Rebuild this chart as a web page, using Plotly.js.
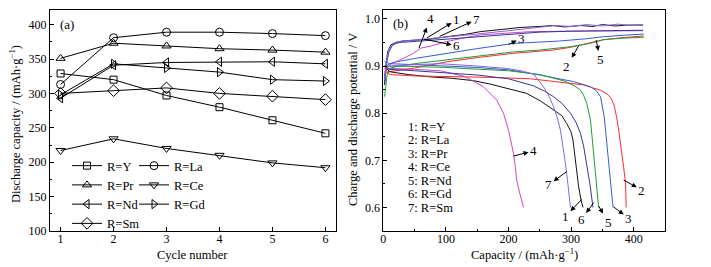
<!DOCTYPE html>
<html><head><meta charset="utf-8">
<script src="https://cdn.plot.ly/plotly-3.0.1.min.js"></script>
<style>html,body{margin:0;padding:0;background:#fff}#chart{width:711px;height:267px}</style>
</head><body><div id="chart"></div>
<script>
// ---------- Panel (a) data ----------
const cycles = [1, 2, 3, 4, 5, 6];
const capY  = [329, 320, 297, 280, 261, 242];
const capLa = [313, 381, 389, 389, 387, 384];
const capPr = [351, 373, 369, 365, 363, 360];
const capCe = [217, 234, 220, 210, 199, 192];
const capNd = [293, 341, 345, 346, 346, 343];
const capGd = [298, 343, 337, 331, 320, 318];
const capSm = [300, 304, 308, 300, 296, 291];
const namesA = ['R=Y', 'R=La', 'R=Pr', 'R=Ce', 'R=Nd', 'R=Gd', 'R=Sm'];

// ---------- Panel (b) data: charge curves ----------
const chgX1 = [2, 4, 7, 12, 20, 30, 50, 75, 100, 130, 155, 190, 220, 250, 270, 290, 315, 335, 350, 370, 390, 415];
const chgV1 = [0.86, 0.90, 0.93, 0.945, 0.95, 0.953, 0.955, 0.957, 0.962, 0.967, 0.973, 0.978, 0.982, 0.984, 0.986, 0.983, 0.986, 0.984, 0.988, 0.985, 0.987, 0.987];
const chgX2 = [2, 5, 10, 20, 50, 101, 150, 208, 250, 272, 300, 325, 352, 380, 416];
const chgV2 = [0.89, 0.885, 0.888, 0.89, 0.896, 0.909, 0.918, 0.927, 0.931, 0.934, 0.94, 0.948, 0.956, 0.96, 0.964];
const chgX3 = [2, 5, 10, 21, 50, 101, 150, 208, 250, 280, 325, 350, 380, 416];
const chgV3 = [0.88, 0.9, 0.905, 0.909, 0.916, 0.927, 0.937, 0.948, 0.951, 0.953, 0.958, 0.962, 0.965, 0.968];
const chgX4 = [2, 6, 12, 27, 48, 60, 75, 101, 130, 155, 200, 235, 300, 350, 415];
const chgV4 = [0.88, 0.895, 0.905, 0.913, 0.927, 0.938, 0.942, 0.952, 0.96, 0.966, 0.97, 0.973, 0.974, 0.975, 0.975];
const chgX5 = [2, 4, 6, 10, 21, 50, 101, 150, 208, 250, 299, 330, 352, 380, 416];
const chgV5 = [0.835, 0.86, 0.88, 0.895, 0.899, 0.905, 0.913, 0.921, 0.93, 0.934, 0.941, 0.948, 0.956, 0.959, 0.961];
const chgX6 = [2, 5, 9, 15, 25, 50, 80, 110, 150, 200, 250, 300, 350, 415];
const chgV6 = [0.86, 0.905, 0.93, 0.945, 0.95, 0.953, 0.955, 0.958, 0.962, 0.968, 0.972, 0.974, 0.975, 0.976];
const chgX7 = [2, 5, 9, 15, 25, 50, 80, 110, 150, 200, 250, 275, 300, 325, 350, 375, 395, 415];
const chgV7 = [0.87, 0.91, 0.935, 0.948, 0.952, 0.955, 0.958, 0.962, 0.968, 0.975, 0.982, 0.986, 0.984, 0.988, 0.985, 0.989, 0.986, 0.988];

// ---------- Panel (b) data: discharge curves ----------
const disX1 = [2, 10, 40, 75, 110, 144, 170, 190, 210, 229, 251, 272, 285, 293, 300, 303, 307, 312, 316, 319];
const disV1 = [0.9, 0.888, 0.882, 0.877, 0.874, 0.869, 0.862, 0.855, 0.848, 0.842, 0.826, 0.807, 0.795, 0.778, 0.76, 0.743, 0.693, 0.644, 0.615, 0.6];
const disX2 = [2, 10, 50, 100, 170, 235, 293, 320, 336, 347, 358, 364, 369, 373, 377, 381, 384, 387, 388];
const disV2 = [0.895, 0.882, 0.879, 0.878, 0.876, 0.873, 0.865, 0.86, 0.853, 0.849, 0.84, 0.832, 0.815, 0.79, 0.755, 0.72, 0.685, 0.65, 0.6];
const disX3 = [2, 10, 50, 100, 150, 200, 250, 304, 331, 340, 347, 353, 357, 360, 363, 367];
const disV3 = [0.91, 0.905, 0.903, 0.9, 0.897, 0.892, 0.881, 0.867, 0.856, 0.848, 0.835, 0.792, 0.736, 0.7, 0.665, 0.6];
const disX4 = [2, 10, 50, 91, 130, 160, 181, 192, 200, 205, 208, 211, 213, 218, 224];
const disV4 = [0.895, 0.895, 0.893, 0.89, 0.878, 0.856, 0.828, 0.8, 0.764, 0.729, 0.715, 0.685, 0.658, 0.63, 0.6];
const disX5 = [2, 10, 50, 100, 150, 200, 250, 290, 305, 315, 320, 325, 331, 335, 339, 342, 344];
const disV5 = [0.9, 0.9, 0.899, 0.897, 0.894, 0.89, 0.882, 0.868, 0.858, 0.849, 0.838, 0.821, 0.785, 0.729, 0.672, 0.623, 0.6];
const disX6 = [2, 10, 50, 100, 150, 200, 240, 257, 272, 286, 299, 308, 315, 320, 325, 330, 335];
const disV6 = [0.9, 0.893, 0.89, 0.886, 0.881, 0.873, 0.858, 0.847, 0.835, 0.82, 0.8, 0.78, 0.757, 0.73, 0.693, 0.65, 0.6];
const disX7 = [2, 10, 50, 91, 150, 197, 220, 240, 256, 265, 272, 278, 283, 287, 291, 294, 296, 299];
const disV7 = [0.895, 0.9, 0.903, 0.905, 0.9, 0.895, 0.89, 0.883, 0.856, 0.835, 0.814, 0.79, 0.764, 0.73, 0.693, 0.66, 0.637, 0.6];
const namesB = ['1: R=Y', '2: R=La', '3: R=Pr', '4: R=Ce', '5: R=Nd', '6: R=Gd', '7: R=Sm'];

// arrow labels: [label, curve x, curve y, label x, label y]
const upperLabels = [['4', 57, 0.938, 75, 1.001], ['1', 70, 0.96, 117, 0.998], ['7', 90, 0.963, 149, 0.999],
  ['6', 65, 0.957, 117, 0.943], ['3', 200, 0.946, 221, 0.959], ['2', 312, 0.943, 293, 0.899], ['5', 340, 0.955, 347, 0.913]];
const lowerLabels = [['4', 208, 0.709, 240, 0.72], ['7', 293, 0.676, 264, 0.648], ['1', 317, 0.617, 291, 0.581],
  ['6', 336, 0.61, 316, 0.574], ['5', 344, 0.603, 359, 0.569], ['3', 368, 0.601, 392, 0.577], ['2', 384, 0.658, 413, 0.637]];

const FONT = "'Liberation Serif', 'Times New Roman', serif";
const colorsB = ['#111111', '#ff2a2a', '#3a5ad0', '#cc48c0', '#1f9a3a', '#34359a', '#8a62d8'];

const capsA = [capY, capLa, capPr, capCe, capNd, capGd, capSm];
const symbolsA = ['square-open', 'circle-open', 'triangle-up-open', 'triangle-down-open', 'triangle-left-open', 'triangle-right-open', 'diamond-open'];
const sizesA = [7, 8, 8, 8, 8, 8, 9];
const legendOf = ['legend', 'legend2', 'legend', 'legend2', 'legend', 'legend2', 'legend'];

const traces = [];
capsA.forEach((c, i) => {
  traces.push({x: cycles, y: c, name: namesA[i], mode: 'lines+markers', xaxis: 'x', yaxis: 'y',
    legend: legendOf[i],
    line: {color: '#000', width: 1}, marker: {symbol: symbolsA[i], size: sizesA[i], color: '#000', line: {width: 1, color: '#000'}}});
});
const chg = [[chgX1, chgV1], [chgX2, chgV2], [chgX3, chgV3], [chgX4, chgV4], [chgX5, chgV5], [chgX6, chgV6], [chgX7, chgV7]];
const dis = [[disX1, disV1], [disX2, disV2], [disX3, disV3], [disX4, disV4], [disX5, disV5], [disX6, disV6], [disX7, disV7]];
chg.forEach((d, i) => traces.push({x: d[0], y: d[1], mode: 'lines', xaxis: 'x2', yaxis: 'y2', showlegend: false, line: {color: colorsB[i], width: 1}}));
dis.forEach((d, i) => traces.push({x: d[0], y: d[1], mode: 'lines', xaxis: 'x2', yaxis: 'y2', showlegend: false, line: {color: colorsB[i], width: 1}}));

const TF = {family: FONT, size: 12.5, color: '#000'};
const annotations = [];
annotations.push({xref: 'x', yref: 'y', x: 1.12, y: 400, text: '(a)', showarrow: false, font: {family: FONT, size: 13, color: '#000'}});
annotations.push({xref: 'x2', yref: 'y2', x: 27, y: 0.991, text: '(b)', showarrow: false, font: {family: FONT, size: 13, color: '#000'}});
// axis titles
annotations.push({xref: 'paper', yref: 'paper', x: 193/711, y: (267-255)/267, text: 'Cycle number', showarrow: false, font: TF, xanchor: 'center', yanchor: 'middle'});
annotations.push({xref: 'paper', yref: 'paper', x: 524/711, y: (267-254)/267, text: 'Capacity / (mAh·g<sup>−1</sup>)', showarrow: false, font: TF, xanchor: 'center', yanchor: 'middle'});
annotations.push({xref: 'paper', yref: 'paper', x: 15/711, y: (267-124)/267, text: 'Discharge capacity / (mAh·g<sup>−1</sup>)', textangle: -90, showarrow: false, font: TF, xanchor: 'center', yanchor: 'middle'});
annotations.push({xref: 'paper', yref: 'paper', x: 353/711, y: (267-120)/267, text: 'Charge and discharge potential / V', textangle: -90, showarrow: false, font: TF, xanchor: 'center', yanchor: 'middle'});
[...upperLabels, ...lowerLabels].forEach(l => {
  annotations.push({xref: 'x2', yref: 'y2', axref: 'x2', ayref: 'y2', x: l[1], y: l[2], ax: l[3], ay: l[4], text: l[0],
    showarrow: true, arrowside: 'start', startarrowhead: 2, startarrowsize: 1, arrowwidth: 1, arrowcolor: '#000',
    standoff: 0, startstandoff: 0, font: {family: FONT, size: 13, color: '#000'}});
});
namesB.forEach((t, i) => {
  annotations.push({xref: 'x2', yref: 'y2', x: 37, y: 0.771 - i * 0.0286, text: t, xanchor: 'left', showarrow: false,
    font: TF});
});

const axBase = {showline: true, mirror: true, linecolor: '#000', linewidth: 1, ticks: 'inside', ticklen: 4, tickcolor: '#000',
  showgrid: false, zeroline: false, tickfont: {family: FONT, size: 12, color: '#000'}};
const minorIn = {ticks: 'inside', ticklen: 2, tickcolor: '#000'};

const layout = {
  width: 711, height: 267, margin: {l: 0, r: 0, t: 0, b: 0},
  paper_bgcolor: '#fff', plot_bgcolor: '#fff', font: {family: FONT, color: '#000'},
  xaxis: Object.assign({}, axBase, {domain: [50/711, 336/711], range: [0.8, 6.2], tickvals: cycles, anchor: 'y', ticklabelstandoff: -3}),
  yaxis: Object.assign({}, axBase, {domain: [36/267, 257.5/267], range: [100, 422], dtick: 50, anchor: 'x',
    minor: Object.assign({dtick: 25}, minorIn)}),
  xaxis2: Object.assign({}, axBase, {domain: [383.3/711, 665/711], range: [0, 450], dtick: 100, anchor: 'y2', ticklabelstandoff: -3,
    minor: Object.assign({dtick: 50}, minorIn)}),
  yaxis2: Object.assign({}, axBase, {domain: [36/267, 257.5/267], range: [0.55, 1.02], dtick: 0.1, tickformat: '.1f', anchor: 'x2',
    minor: Object.assign({dtick: 0.05}, minorIn)}),
  legend: {x: 67/711, y: (267-151)/267, xanchor: 'left', yanchor: 'top', bgcolor: 'rgba(0,0,0,0)', borderwidth: 0,
    font: TF, tracegroupgap: 0},
  legend2: {x: 134/711, y: (267-151)/267, xanchor: 'left', yanchor: 'top', bgcolor: 'rgba(0,0,0,0)', borderwidth: 0,
    font: TF, tracegroupgap: 0},
  annotations: annotations,
  showlegend: true
};

Plotly.newPlot('chart', traces, layout, {staticPlot: true, displayModeBar: false});
</script></body></html>
